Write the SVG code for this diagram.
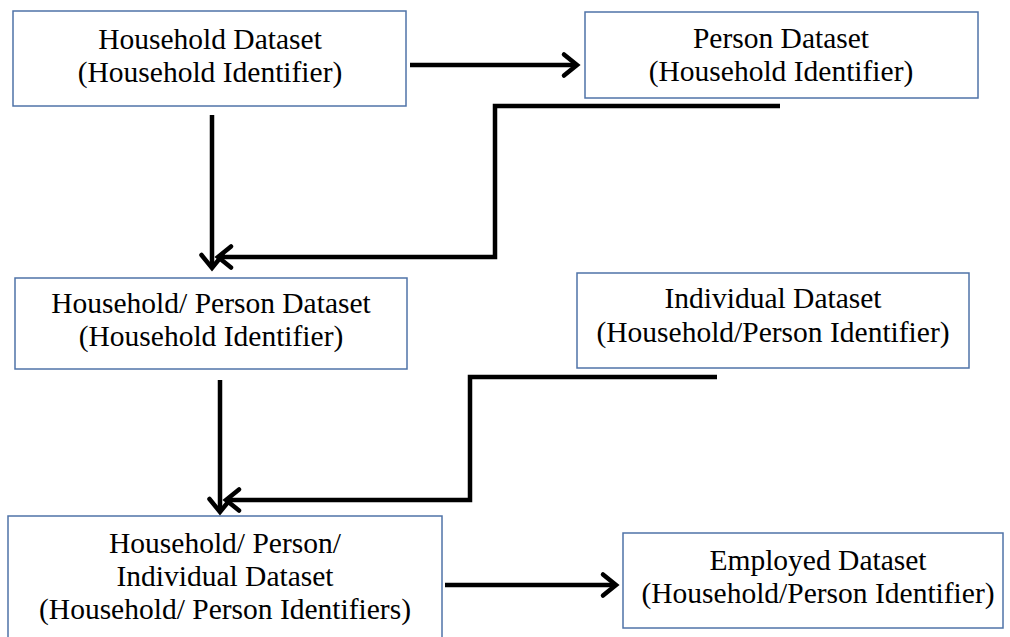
<svg xmlns="http://www.w3.org/2000/svg" width="1010" height="637" viewBox="0 0 1010 637">
  <style>
    .box { fill: #ffffff; stroke: #4f73a8; stroke-width: 1.5; }
    .lbl { font-family: "Liberation Serif", "Times New Roman", serif; font-size: 29.5px; fill: #000000; text-anchor: middle; }
    .conn { fill: none; stroke: #000000; stroke-width: 4.5; stroke-linejoin: miter; }
  </style>
  <defs>
    <marker id="chev" viewBox="-18 -13 20 26" refX="0" refY="0" markerWidth="20" markerHeight="26" markerUnits="userSpaceOnUse" orient="auto" overflow="visible">
      <path d="M-13,-10.5 L0,0 L-13,10.5" fill="none" stroke="#000000" stroke-width="4.5" stroke-linecap="round" stroke-linejoin="miter"/>
    </marker>
  </defs>
  <rect width="1010" height="637" fill="#ffffff"/>

  <g id="household">
    <rect class="box" x="13" y="11" width="393" height="95"/>
    <text class="lbl" x="210" y="49">Household Dataset</text>
    <text class="lbl" x="210" y="82">(Household Identifier)</text>
  </g>

  <g id="person">
    <rect class="box" x="585" y="12" width="393" height="86"/>
    <text class="lbl" x="781" y="48">Person Dataset</text>
    <text class="lbl" x="781" y="81">(Household Identifier)</text>
  </g>

  <g id="household-person">
    <rect class="box" x="15" y="278" width="392" height="91"/>
    <text class="lbl" x="211" y="313">Household/ Person Dataset</text>
    <text class="lbl" x="211" y="346">(Household Identifier)</text>
  </g>

  <g id="individual">
    <rect class="box" x="577" y="273" width="392" height="95"/>
    <text class="lbl" x="773" y="308">Individual Dataset</text>
    <text class="lbl" x="773" y="342">(Household/Person Identifier)</text>
  </g>

  <g id="household-person-individual">
    <rect class="box" x="8" y="516" width="434" height="130"/>
    <text class="lbl" x="225" y="553">Household/ Person/</text>
    <text class="lbl" x="225" y="586">Individual Dataset</text>
    <text class="lbl" x="225" y="619">(Household/ Person Identifiers)</text>
  </g>

  <g id="employed">
    <rect class="box" x="623" y="533" width="380" height="95"/>
    <text class="lbl" x="818" y="570">Employed Dataset</text>
    <text class="lbl" x="818" y="603">(Household/Person Identifier)</text>
  </g>

  <g id="connectors">
    <path class="conn" d="M410,65 H577" marker-end="url(#chev)"/>
    <path class="conn" d="M212,115 V268" marker-end="url(#chev)"/>
    <path class="conn" d="M780,106 H495 V257 H218" marker-end="url(#chev)"/>
    <path class="conn" d="M220,380 V512" marker-end="url(#chev)"/>
    <path class="conn" d="M717,377 H470 V500 H226" marker-end="url(#chev)"/>
    <path class="conn" d="M445,585 H616" marker-end="url(#chev)"/>
  </g>
</svg>
